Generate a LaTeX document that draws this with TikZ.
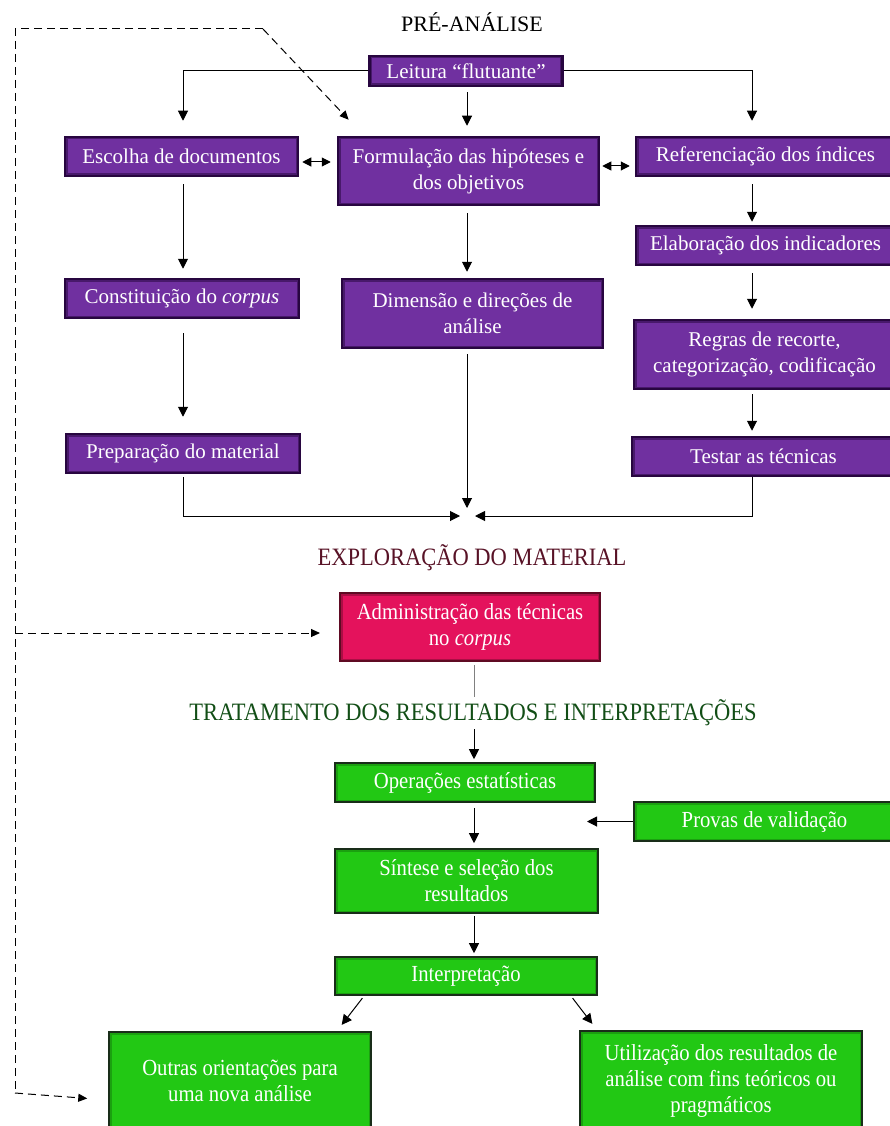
\documentclass[tikz,border=0pt]{standalone}
\usepackage{fontspec}
\setmainfont{Liberation Serif}
\newfontfamily\condfont[FakeStretch=0.9]{Liberation Serif}
\usetikzlibrary{arrows.meta}
\definecolor{roxo}{RGB}{112,48,160}
\definecolor{roxoesc}{RGB}{40,6,64}
\definecolor{verde}{RGB}{34,200,20}
\definecolor{verdeesc}{RGB}{25,45,25}
\definecolor{rosa}{RGB}{228,18,92}
\definecolor{rosaesc}{RGB}{95,10,35}
\definecolor{titvinho}{RGB}{88,18,38}
\definecolor{titverde}{RGB}{18,78,22}
\tikzset{
  brilho/.style={path picture={\draw[#1,line width=5pt]
    (path picture bounding box.south west) rectangle (path picture bounding box.north east);}},
  caixa/.style={draw=roxoesc,line width=2.5pt,fill=roxo,text=white,inner sep=0pt,
    align=center,font=\fontsize{21}{26}\selectfont,brilho=roxoesc!55!roxo},
  caixav/.style={draw=verdeesc,line width=1.6pt,fill=verde,text=white,inner sep=0pt,
    align=center,font=\condfont\fontsize{23}{26}\selectfont,brilho=verde!80!black},
  caixar/.style={draw=rosaesc,line width=2pt,fill=rosa,text=white,inner sep=0pt,
    align=center,font=\condfont\fontsize{23}{26}\selectfont,brilho=rosa!75!black},
  titulo/.style={inner sep=3pt,font=\condfont\fontsize{25}{28}\selectfont},
  seta/.style={line width=1pt,-{Triangle[length=10pt,width=10pt]}},
  dupla/.style={line width=1pt,{Triangle[length=9pt,width=9pt]}-{Triangle[length=9pt,width=9pt]}},
  tracejado/.style={line width=1pt,dash pattern=on 8pt off 5pt},
  setat/.style={tracejado,-{Triangle[length=9pt,width=8pt]}}
}
\begin{document}
\begin{tikzpicture}[x=1pt,y=-1pt]
\useasboundingbox (0,0) rectangle (890,1126);
\coordinate (lcol) at (183,0);
\coordinate (ccol) at (467,0);
\coordinate (rcol) at (752,0);
\coordinate (mcol) at (474,0);
\coordinate (linhaA) at (0,162);
\coordinate (linhaB) at (0,166);
\coordinate (linhaC) at (0,633);
\coordinate (linhaD) at (0,1100);
\coordinate (junta) at (467,516);
\coordinate (dsup) at (15,29);
\coordinate (dcanto) at (263,29);
\coordinate (dinf) at (15,1093);

\node[titulo,font=\fontsize{22}{26}\selectfont] (tpre) at (472,22) {PRÉ-ANÁLISE};
\node[caixa,minimum width=193pt,minimum height=30pt] (leitura) at (466,71) {Leitura “flutuante”};
\node[caixa,minimum width=233pt,minimum height=39pt] (escolha) at (181.5,156.5) {Escolha de documentos};
\node[caixa,minimum width=261pt,minimum height=68pt] (formul) at (468.5,171) {Formulação das hipóteses e\\dos objetivos};
\node[caixa,minimum width=259pt,minimum height=39pt] (refer) at (765.5,156.5) {Referenciação dos índices};
\node[caixa,minimum width=234pt,minimum height=39pt] (constit) at (182,298.5) {Constituição do \textit{corpus}};
\node[caixa,minimum width=261pt,minimum height=69pt] (dimensao) at (472.5,313.5) {Dimensão e direções de\\análise};
\node[caixa,minimum width=259pt,minimum height=39pt] (elab) at (765.5,245.5) {Elaboração dos indicadores};
\node[caixa,minimum width=261pt,minimum height=69pt] (regras) at (764.5,354.5) {Regras de recorte,\\categorização, codificação};
\node[caixa,minimum width=234pt,minimum height=39pt] (prep) at (183,453.5) {Preparação do material};
\node[caixa,minimum width=263pt,minimum height=39pt] (testar) at (763.5,456.5) {Testar as técnicas};

\node[titulo,text=titvinho] (texp) at (472,558) {EXPLORAÇÃO DO MATERIAL};
\node[caixar,minimum width=260pt,minimum height=68pt] (admin) at (470,627) {Administração das técnicas\\no \textit{corpus}};
\node[titulo,text=titverde] (ttrat) at (473,713) {TRATAMENTO DOS RESULTADOS E INTERPRETAÇÕES};
\node[caixav,minimum width=260pt,minimum height=39pt] (oper) at (465,782.5) {Operações estatísticas};
\node[caixav,minimum width=261pt,minimum height=39pt] (provas) at (764.5,821.5) {Provas de validação};
\node[caixav,minimum width=263pt,minimum height=64pt] (sintese) at (466.5,881) {Síntese e seleção dos\\resultados};
\node[caixav,minimum width=262pt,minimum height=38pt] (interp) at (466,976) {Interpretação};
\node[caixav,minimum width=262pt,minimum height=98pt] (outras) at (240,1081) {Outras orientações para\\uma nova análise};
\node[caixav,minimum width=282pt,minimum height=99pt] (util) at (721,1080.5) {Utilização dos resultados de\\análise com fins teóricos ou\\pragmáticos};

\draw[seta,shorten >=15pt] (leitura.west) -| (lcol |- escolha.north);
\draw[seta,shorten >=15pt] (leitura.east) -| (rcol |- refer.north);
\draw[seta,shorten <=5pt,shorten >=10pt] (ccol |- leitura.south) -- (ccol |- formul.north);
\draw[dupla,shorten <=3pt,shorten >=6pt] (escolha.east |- linhaA) -- (formul.west |- linhaA);
\draw[dupla,shorten <=2pt,shorten >=5pt] (formul.east |- linhaB) -- (refer.west |- linhaB);
\draw[seta,shorten <=7pt,shorten >=9pt] (lcol |- escolha.south) -- (lcol |- constit.north);
\draw[seta,shorten <=14pt,shorten >=16pt] (lcol |- constit.south) -- (lcol |- prep.north);
\draw[seta,shorten <=7pt,shorten >=6pt] (ccol |- formul.south) -- (ccol |- dimensao.north);
\draw[seta,shorten <=5pt,shorten >=8pt] (ccol |- dimensao.south) -- (junta);
\draw[seta,shorten <=3pt,shorten >=7pt] (lcol |- prep.south) |- (junta);
\draw[seta,shorten >=8pt] (rcol |- testar.south) |- (junta);
\draw[seta,shorten <=7pt,shorten >=3pt] (rcol |- refer.south) -- (rcol |- elab.north);
\draw[seta,shorten <=7pt,shorten >=10pt] (rcol |- elab.south) -- (rcol |- regras.north);
\draw[seta,shorten <=4pt,shorten >=5pt] (rcol |- regras.south) -- (rcol |- testar.north);

\draw[tracejado] (dcanto) -- (dsup) -- (dinf);
\draw[setat,shorten >=22pt] (dcanto) -- ([xshift=27pt]formul.north west);
\draw[setat,shorten >=19pt] (dsup |- linhaC) -- (admin.west |- linhaC);
\draw[setat,shorten >=21pt] (dinf) -- (outras.west |- linhaD);

\draw[line width=1pt,gray,shorten <=3pt] (mcol |- admin.south) -- (mcol |- ttrat.north);
\draw[seta,shorten >=3pt] (mcol |- ttrat.south) -- (mcol |- oper.north);
\draw[seta,shorten <=5pt,shorten >=5pt] (mcol |- oper.south) -- (mcol |- sintese.north);
\draw[seta,shorten >=113pt] (provas.west) -- (mcol |- provas.west);
\draw[seta,shorten <=2pt,shorten >=3pt] (mcol |- sintese.south) -- (mcol |- interp.north);
\draw[seta,shorten <=3pt,shorten >=8pt] ([xshift=30pt]interp.south west) -- ([xshift=-35pt]outras.north east);
\draw[seta,shorten <=3pt,shorten >=8pt] ([xshift=-27pt]interp.south east) -- ([xshift=18pt]util.north west);
\end{tikzpicture}
\end{document}
